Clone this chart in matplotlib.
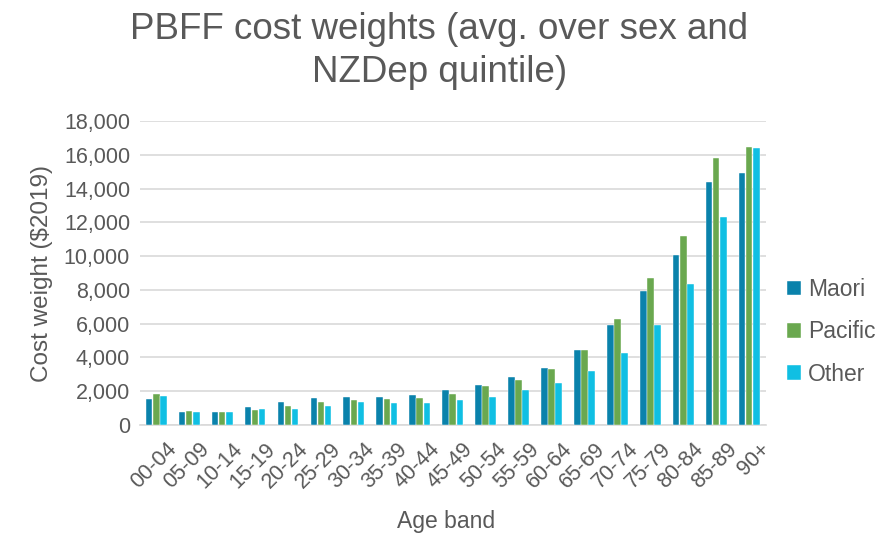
import matplotlib.pyplot as plt
import numpy as np

plt.rcParams['font.family'] = ['Liberation Sans', 'DejaVu Sans']

age_bands = ['00-04', '05-09', '10-14', '15-19', '20-24', '25-29', '30-34', '35-39',
             '40-44', '45-49', '50-54', '55-59', '60-64', '65-69', '70-74', '75-79',
             '80-84', '85-89', '90+']
maori = [1520, 760, 780, 1060, 1340, 1580, 1640, 1640, 1760, 2050, 2360, 2840, 3380,
         4460, 5900, 7930, 10080, 14380, 14910]
pacific = [1800, 800, 780, 860, 1100, 1340, 1440, 1520, 1580, 1800, 2300, 2680, 3280,
           4460, 6270, 8720, 11220, 15800, 16450]
other = [1700, 760, 780, 920, 940, 1140, 1320, 1280, 1280, 1440, 1640, 2040, 2460,
         3170, 4280, 5940, 8360, 12330, 16390]

series = [('Maori', maori, '#0A82AB'),
          ('Pacific', pacific, '#6AA84F'),
          ('Other', other, '#10BFE3')]

grey = '#595959'
fig = plt.figure(figsize=(8.79, 5.39), dpi=100)
ax = fig.add_axes([0.159, 0.212, 0.712, 0.563])

x = np.arange(len(age_bands))
w = 0.2
for i, (name, vals, col) in enumerate(series):
    ax.bar(x + (i - 1) * w * 1.08, vals, width=w, color=col, label=name,
           edgecolor='white', linewidth=0.3, zorder=3)

ax.set_ylim(0, 18000)
ax.set_yticks(range(0, 18001, 2000))
ax.set_yticklabels([f'{v:,}' for v in range(0, 18001, 2000)])
ax.set_xlim(-0.5, len(age_bands) - 0.5)
# rotated labels sit a little right of each group centre
ax.set_xticks(x + 0.3)
ax.set_xticklabels(age_bands, rotation=45, ha='right', rotation_mode='anchor')

ax.grid(axis='y', color='#D9D9D9', linewidth=1.2, zorder=0)
for s in ['top', 'right', 'left']:
    ax.spines[s].set_visible(False)
ax.spines['bottom'].set_color('#D9D9D9')
ax.spines['bottom'].set_linewidth(1.2)
ax.tick_params(axis='y', length=0, labelsize=15.5, colors=grey, pad=7)
ax.tick_params(axis='x', length=0, labelsize=15.5, colors=grey, pad=10)

ax.set_ylabel('Cost weight ($2019)', fontsize=17.5, color=grey, labelpad=8)
ax.set_xlabel('Age band', fontsize=16.5, color=grey)
ax.xaxis.set_label_coords(0.49, -0.32)
ax.xaxis.label.set_va('center')
fig.suptitle('PBFF cost weights (avg. over sex and\nNZDep quintile)', fontsize=26.5,
             color=grey, y=0.977, linespacing=1.3)

ax.legend(loc='center left', bbox_to_anchor=(1.02, 0.306), frameon=False,
          borderaxespad=0, fontsize=16.5, labelcolor=grey, handlelength=0.6,
          handleheight=0.6, handletextpad=0.3, labelspacing=0.85)

fig.savefig('out.png', dpi=100)
